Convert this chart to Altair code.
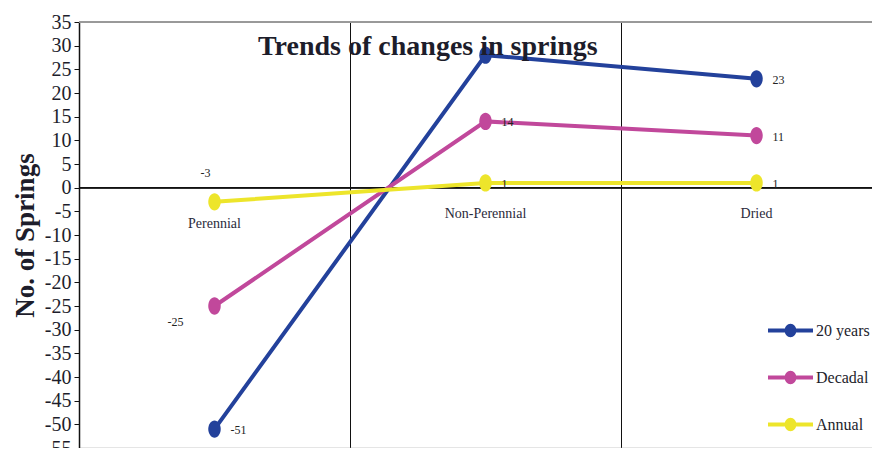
import altair as alt
import pandas as pd

title_text = ["Trends of changes in springs"]
categories = ["Perennial", "Non-Perennial", "Dried"]
series = ["20 years", "Decadal", "Annual"]
values_20y = [-51, 28, 23]
values_decadal = [-25, 14, 11]
values_annual = [-3, 1, 1]
colors = ["#23419B", "#C1489B", "#EDE52B"]
# where each point's value label sits ("none" = no label)
labels_20y = ["right", "none", "right"]
labels_decadal = ["belowleft", "right", "right"]
labels_annual = ["above", "right", "right"]
y_ticks = list(range(-55, 40, 5))

rows = []
for s, vals, labs in zip(series, [values_20y, values_decadal, values_annual],
                         [labels_20y, labels_decadal, labels_annual]):
    for c, v, l in zip(categories, vals, labs):
        rows.append({"category": c, "series": s, "value": v, "lab": l})
df = pd.DataFrame(rows)
cat_df = pd.DataFrame({"category": categories})
title_df = pd.DataFrame({"t": title_text})

FONT = "Liberation Serif"

xscale = alt.Scale(type="band", domain=categories, range=[0, 813], paddingInner=0, paddingOuter=0)
yscale = alt.Scale(domain=[-55, 35], nice=False, zero=False)

x_axis = alt.Axis(title=None, labels=False, ticks=False, grid=True, bandPosition=0,
                  gridColor="#111111", gridWidth=1, gridOpacity=1,
                  domain=True, domainColor="#999999", domainWidth=1.5)
y_axis = alt.Axis(values=y_ticks, title="No. of Springs", grid=False,
                  labelExpr="'' + datum.value", labelOverlap=False,
                  labelFont=FONT, labelFontSize=20, labelColor="#1d1d2b",
                  tickSize=5, tickColor="#111111", labelPadding=3,
                  domainColor="#111111", domainWidth=1.5,
                  titleFont=FONT, titleFontSize=27, titleFontWeight="bold",
                  titleColor="#1d1d2b", titlePadding=5)

x_enc = alt.X("category:N", scale=xscale, bandPosition=0.5, axis=x_axis)
y_enc = alt.Y("value:Q", scale=yscale, axis=y_axis)

legend_sym = ("M-1,-0.09L1,-0.09L1,0.09L-1,0.09Z "
              "M-0.26,0A0.26,0.3 0 1,1 0.26,0A0.26,0.3 0 1,1 -0.26,0Z")
legend = alt.Legend(title=None, orient="none", legendX=689, legendY=286,
                    symbolType=legend_sym, symbolSize=2025,
                    symbolStrokeWidth=0, rowPadding=16, labelOffset=3,
                    labelFont=FONT, labelFontSize=16, labelColor="#1d1d2b",
                    padding=0)
cscale = alt.Scale(domain=series, range=colors)

base = alt.Chart(df).transform_calculate(txt="'' + datum.value")

border = alt.Chart(cat_df).mark_rule(color="#999999", strokeWidth=1.5).encode(
    y=alt.Y(datum=35, scale=yscale, axis=y_axis))
zero = alt.Chart(cat_df).mark_rule(color="#111111", strokeWidth=1.5).encode(
    y=alt.Y(datum=0, scale=yscale, axis=y_axis))

lines = base.mark_line(strokeWidth=4).encode(
    x=x_enc, y=y_enc, color=alt.Color("series:N", scale=cscale, legend=None))

ellipse = "M-0.72,0A0.72,1 0 1,0 0.72,0A0.72,1 0 1,0 -0.72,0Z"
points = base.mark_point(filled=True, opacity=1, size=300, shape=ellipse).encode(
    x=x_enc, y=y_enc, color=alt.Color("series:N", scale=cscale, legend=legend))

lab_right = base.transform_filter(alt.datum.lab == "right").mark_text(
    align="left", baseline="middle", dx=16, dy=1, font=FONT, fontSize=12, color="#222222"
).encode(x=x_enc, y=y_enc, text="txt:N")
lab_bl = base.transform_filter(alt.datum.lab == "belowleft").mark_text(
    align="right", baseline="middle", dx=-31, dy=16, font=FONT, fontSize=12, color="#222222"
).encode(x=x_enc, y=y_enc, text="txt:N")
lab_above = base.transform_filter(alt.datum.lab == "above").mark_text(
    align="center", baseline="middle", dx=-9, dy=-29, font=FONT, fontSize=12, color="#222222"
).encode(x=x_enc, y=y_enc, text="txt:N")

cat_first = alt.Chart(cat_df).transform_filter(alt.datum.category == categories[0]).mark_text(
    baseline="middle", dy=36, font=FONT, fontSize=14, color="#2b2b3b"
).encode(x=x_enc, y=alt.Y(datum=0, scale=yscale, axis=y_axis), text="category:N")
cat_rest = alt.Chart(cat_df).transform_filter(alt.datum.category != categories[0]).mark_text(
    baseline="middle", dy=26, font=FONT, fontSize=14, color="#2b2b3b"
).encode(x=x_enc, y=alt.Y(datum=0, scale=yscale, axis=y_axis), text="category:N")

title = alt.Chart(title_df).mark_text(
    align="left", baseline="alphabetic", dx=179, dy=33,
    font=FONT, fontSize=28, fontWeight="bold", color="#1d1d2b"
).encode(x=alt.X(datum=categories[0], scale=xscale, bandPosition=0, axis=x_axis),
         y=alt.Y(datum=35, scale=yscale, axis=y_axis), text="t:N")

chart = alt.layer(
    border, zero, lines, points, lab_right, lab_bl, lab_above, cat_first, cat_rest, title
).resolve_legend(color="independent").properties(
    width=793, height=426,
    autosize=alt.AutoSizeParams(type="none"),
    padding={"left": 71, "top": 14, "right": 0, "bottom": 0},
).configure_view(fill="#D3D3D3", stroke=None).configure(background="white")

chart.save("out.html", embed_options={"renderer": "svg", "actions": False})
